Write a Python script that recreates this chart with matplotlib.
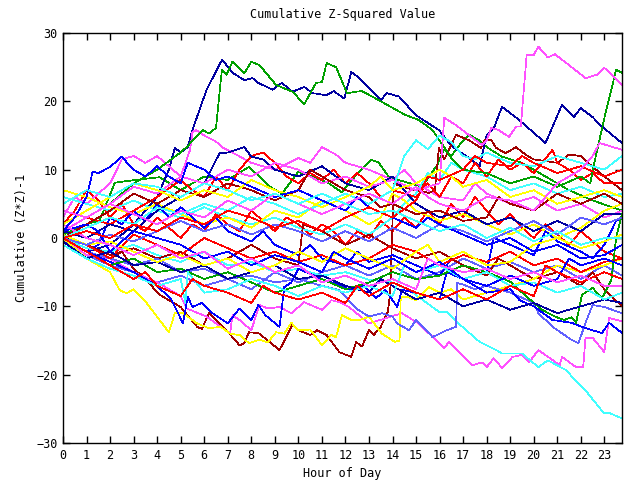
import numpy as np
import matplotlib
matplotlib.use("Agg")
import matplotlib.pyplot as plt

# gnuplot-ish palette
RED = "#ff0000"
GREEN = "#00a000"
NAVY = "#0000a0"
MAGENTA = "#ff50ff"
CYAN = "#40ffff"
DRED = "#a00000"
YELLOW = "#ffff00"
SLATE = "#6060ff"
BLUE = "#0000ff"

# --- data: (hour, cumulative value) ---
navy_high = [(0, 0), (1, -2), (2, -1), (3, 2), (4, 6), (4.5, 10), (4.75, 13.2), (5.0, 12.5), (5.3, 13.3),
             (5.5, 15.8), (6.1, 21.7), (6.76, 26.1), (7.2, 24.2), (7.7, 23.1), (8.05, 23.4), (8.3, 22.7),
             (8.9, 21.7), (9.3, 22.7), (9.75, 21.4), (10.25, 22.1), (10.6, 21.2), (11.2, 20.9), (11.5, 21.5),
             (11.95, 20.4), (12.25, 24.3), (12.6, 23.4), (13.5, 20.2), (13.77, 21.2), (14.28, 20.7),
             (14.98, 18.0), (15.97, 15.8), (16.5, 13.5), (17.37, 11.4), (17.7, 10.5), (18.0, 15.1),
             (18.3, 16.0), (18.65, 19.2), (19.37, 17.3), (20.5, 13.9), (21.2, 19.5), (21.7, 17.7),
             (22.0, 19.0), (22.5, 17.7), (22.9, 16.3), (23.75, 13.9)]
green_high = [(0, 1), (1, 3), (2, 5), (3, 8), (4, 10), (4.95, 12.4), (5.25, 13.3), (5.93, 15.8), (6.2, 15.3),
              (6.5, 16.1), (6.75, 24.6), (6.95, 23.9), (7.2, 25.8), (7.7, 24.1), (8.0, 25.8), (8.35, 25.3),
              (9.05, 22.4), (9.75, 21.4), (10.25, 19.6), (10.75, 22.7), (11.0, 22.8), (11.2, 25.6),
              (11.6, 25.0), (12.07, 21.2), (12.45, 21.4), (12.7, 21.5), (13.4, 20.2), (14.55, 18.0),
              (15.1, 17.3), (15.7, 15.8), (16.5, 11.7), (17, 10), (18, 9.5), (19, 8), (20, 9), (21, 7.5),
              (22, 9), (22.4, 8), (22.6, 11.4), (23.05, 18.3), (23.5, 24.6), (23.75, 24.2)]
magenta_late = [(0, 1), (1, 3), (2, 5), (3, 7.5), (4, 6.5), (5, 9), (6, 8), (7, 10), (8, 9), (9, 11), (10, 10),
                (11, 8), (12, 9), (13, 7.5), (14, 8.5), (15, 7), (16, 8), (16.2, 17.6), (16.7, 16.5),
                (17.8, 13.6), (18.0, 14.3), (18.2, 16.1), (18.5, 15.8), (18.95, 14.8), (19.25, 16.3),
                (19.45, 16.3), (19.7, 26.8), (20, 26.8), (20.2, 28), (20.6, 26.4), (20.9, 26.9), (21.5, 25.3),
                (22.2, 23.4), (22.7, 23.9), (23, 24.9), (23.75, 22.4)]
cyan_low = [(0, 0), (1, -1.5), (2, -2), (3, -1), (4, -2.5), (5, -3.5), (6, -2), (7, -4), (8, -3.5), (9, -5),
            (10, -4.5), (11, -5.5), (12, -5), (13, -6.1), (14, -6.5), (14.7, -7.6), (15.3, -9.1),
            (15.97, -10.8), (16.3, -10.8), (16.8, -12.5), (17.7, -15.2), (18.4, -16.4), (18.65, -16.9),
            (19.5, -16.9), (20.2, -18.9), (20.6, -17.9), (21.35, -19.3), (22.2, -22.3), (22.97, -25.6),
            (23.2, -25.6), (23.75, -26.4)]
magenta_low = [(0, 0), (1, -2.5), (2, -3), (3, -5), (4, -6.5), (5, -8.5), (5.25, -10.3), (6.1, -11.5),
               (7.1, -14), (7.2, -11.3), (7.5, -12), (8, -13.5), (8.35, -9.8), (8.7, -10.3), (9.2, -10.1),
               (9.7, -11), (10.25, -9.4), (11, -10.5), (11.4, -9.1), (11.74, -9.4), (12.15, -10.1),
               (13, -12.5), (14.4, -11), (15.1, -12.5), (16.2, -16.1), (16.4, -15.2), (17.4, -18.6),
               (17.8, -18.2), (18.0, -18.9), (18.3, -17.6), (18.65, -19), (19.1, -17.4), (19.5, -17.1),
               (19.8, -18.2), (20.2, -16.4), (21.1, -18.6), (21.2, -17.4), (21.8, -18.9), (22.1, -18.9),
               (22.2, -14.6), (22.5, -14.6), (23, -16.7), (23.2, -11.7), (23.75, -12.2)]
darkred_low = [(0, 0), (1, -2), (2, -3), (2.5, -2), (3, -4.5), (3.5, -6), (4.1, -8.3), (5, -10.1),
               (5.7, -13), (5.9, -13.3), (6.2, -11), (6.95, -13.5), (7.5, -15.7), (7.7, -15.4), (7.9, -13.8),
               (8.3, -13.9), (9.2, -16.4), (9.75, -12.7), (10, -13.5), (10.5, -14.2), (10.8, -13.5),
               (11.2, -14.2), (11.74, -16.7), (12.25, -17.4), (12.45, -15.2), (12.7, -15.9), (13, -13.5),
               (13.2, -14.2), (13.5, -13), (13.8, -10.8), (13.9, -8.1), (14.05, 8), (14.4, 7.5), (15, 7),
               (15.55, 6.6), (15.8, 7), (15.97, 13.2), (16.2, 11.5), (16.7, 15.1), (17.25, 14.3),
               (17.75, 13.2), (17.9, 14.3), (18.2, 14.3), (18.4, 13.2), (18.8, 12.4), (19.25, 13.3),
               (19.65, 12.2), (20, 11.5), (21, 11), (21.5, 12.2), (22, 12), (22.3, 11), (23, 9), (23.75, 7)]
yellow_low = [(0, 0), (1, -3), (2, -5), (2.4, -7.6), (2.7, -8.1), (3, -7.5), (3.55, -9.5), (4.5, -13.8),
              (4.75, -11), (5.1, -11), (5.7, -12.5), (6.2, -13.2), (6.7, -13), (7.1, -14), (7.5, -14.2),
              (7.9, -15.4), (8.35, -14.9), (8.7, -15.3), (9.05, -13.8), (9.4, -14), (9.7, -12.4),
              (10, -13.5), (10.5, -13.4), (11, -15.7), (11.4, -14.2), (11.6, -14.5), (11.85, -11.3),
              (12.25, -12), (12.6, -12), (13, -11.5), (13.55, -14), (14.1, -15.2), (14.3, -15),
              (14.35, -8.6), (14.6, -8.6), (15, -9.1), (15.55, -7.2), (16, -8), (16.5, -7.5), (17, -9),
              (18, -8), (19, -7), (20, -6), (21, -4), (22, -5), (23, -4), (23.75, -3)]
slate_low = [(0, 0), (1, -2), (2, -3), (3, -4), (4, -3), (5, -5), (6, -4.5), (7, -6), (8, -5.5), (9, -6.5),
             (10, -6), (11, -7), (11.74, -7.6), (12.45, -10.3), (13, -11.5), (13.55, -11), (14, -11.5),
             (14.2, -12.5), (14.7, -13.5), (15, -12), (15.7, -14.5), (16.3, -13.5), (16.7, -13),
             (16.75, -6.6), (17, -6.8), (17.5, -7.5), (18, -7), (19, -8), (20, -9.5), (20.2, -11),
             (20.8, -13), (21.6, -14.9), (21.9, -15.4), (22.2, -12.4), (22.5, -9.8), (23, -10.1),
             (23.75, -11)]
blue_dip = [(0, 0), (1, -2), (2, -3.5), (3, -5), (4, -7), (4.6, -9), (5.1, -12.5), (5.3, -8.6), (5.5, -10.1),
            (5.9, -9.5), (6.35, -11), (7, -12.5), (7.5, -10.3), (8, -12), (8.3, -9.8), (8.6, -11.3),
            (9.2, -13), (9.4, -7.2), (9.7, -6.5), (10, -4.5), (11, -6), (11.74, -6.9), (12.2, -7.6),
            (12.8, -7), (13.3, -8.8), (13.7, -7.6), (14.2, -10.1), (14.4, -7.6), (15, -8), (16, -9),
            (16.3, -5), (17, -6), (18, -8), (19, -7.5), (19.4, -9.1), (20, -10), (20.8, -12), (21.6, -12.4),
            (22.2, -13.2), (22.9, -13.9), (23.2, -12.4), (23.75, -13.9)]
green_mid = [(0, 0.5), (1, 2), (1.56, 2.6), (2.2, 8.1), (3.1, 8.5), (4.1, 8.9), (5, 7), (6, 9), (7, 8.5),
             (7.9, 10.4), (8.8, 7.5), (9.3, 6.5), (10, 9.7), (11.2, 8.2), (11.85, 6.7), (12.45, 9.2),
             (13.1, 11.4), (13.4, 11.1), (13.85, 8.9), (14.55, 8.2), (15.25, 7.5), (15.9, 10.7), (16.2, 13),
             (16.5, 12), (16.95, 14.1), (17.25, 15.1), (17.7, 14.3), (18.0, 13.3), (18.65, 11.9),
             (19.5, 11.0), (20.5, 9), (21.5, 7), (22.5, 5.5), (23.75, 4)]
red_a = [(0, 2), (0.5, 4), (1, 7), (1.5, 5.5), (2, 3), (2.5, 5), (3, 2), (3.5, 1), (4, 3), (4.5, 1.5), (5, 0),
         (5.5, 2), (6, 1), (6.5, 3.5), (7, 2), (7.5, 1), (8, 4), (8.5, 2.5), (9, 1), (9.5, 3), (10, 2),
         (10.5, 0.5), (11, 2), (11.5, 1), (12, -1), (12.5, 1), (13, 0), (13.5, 2.5), (14, 1), (14.5, 3),
         (15, 1.5), (15.5, 4), (16, 2), (16.5, 5), (17, 3), (17.5, 6), (18, 4), (18.5, 2), (19, 3.5),
         (19.5, 1.5), (20, 0), (20.5, 2), (21, 0.5), (21.5, -1), (22, 1), (22.5, -0.5), (23, -2), (23.75, -3)]
blue_a = [(0, -0.5), (1, -2), (1.5, -1), (2, 3), (2.5, 2), (3, 4), (3.5, 2.5), (4, 5), (4.5, 3), (5, 4.5),
          (5.5, 3), (6, 1.5), (6.5, 3), (7, 1), (8, -0.5), (8.5, 1), (9, -1), (10, -2.5), (10.5, -1), (11, -3),
          (12, -4), (12.5, -2), (13, -3.5), (14, -2.5), (15, -4), (16, -5.5), (16.5, -3), (17, -4), (18, -5),
          (18.3, 0), (19, -1), (20, -2.5), (20.5, 1), (21, -0.5), (22, -2), (22.5, -3), (23, -1), (23.5, 2.5),
          (23.75, 3)]
cyan_a = [(0, 6), (1, 5), (2, 4), (3, 5.5), (4, 4), (5, 3), (6, 4.5), (7, 3), (8, 2), (9, 3), (10, 1.5),
          (11, 0.5), (12, 2), (13, 0.5), (14, 3), (14.5, 5), (15, 6.5), (15.5, 9.5), (16, 8.5), (16.5, 11),
          (17, 10), (18, 9), (19, 7), (20, 8), (21, 6.5), (22, 7.5), (23, 6), (23.75, 6.5)]
magenta_a = [(0, 3), (0.5, 6), (1, 5), (2, 8), (2.5, 11.5), (3, 12), (3.5, 11), (4, 12), (4.5, 10.5), (5, 9),
             (5.4, 12.9), (5.5, 15.5), (5.65, 15.8), (6, 15), (6.5, 14.1), (6.8, 13.2), (7.2, 12.5), (8, 11),
             (9, 10), (10, 11.7), (10.5, 11), (11, 13.3), (11.6, 12.2), (12, 11), (13, 10), (14, 8.5),
             (14.5, 10), (15, 8), (16, 6), (17, 5.5), (17.5, 8), (18, 6.5), (19, 5), (20, 6), (21, 4), (22, 5),
             (23, 3), (23.75, 4)]
navy_a = [(0, 1), (1, 0), (2, 2), (3, 1), (4, 4), (5, 6), (6, 8), (6.65, 12.4), (7, 12.5), (7.7, 13.3),
          (8, 11.9), (8.5, 11.5), (9, 10), (10, 9), (11, 10.5), (12, 8), (13, 7), (14, 9), (14.5, 7), (15, 5),
          (16, 3), (17, 4), (18, 2), (19, 3), (20, 1), (21, 2.5), (22, 1), (23, 3.5), (23.75, 3.5)]
red_b = [(0, 1), (1, 3), (2, 2), (3, 4), (4, 6), (5, 8.5), (5.5, 7), (6, 6), (6.5, 9), (7, 7), (7.5, 10),
         (8, 12), (8.5, 12.5), (9, 11), (9.5, 9), (10, 8), (10.5, 9.5), (11, 8.5), (11.5, 10), (12, 8),
         (12.5, 9.5), (13, 8), (13.5, 6), (14, 7), (15, 6), (15.5, 8), (16, 6), (16.5, 9), (17, 8), (17.5, 11),
         (18, 9), (18.5, 11.5), (19, 10), (19.5, 11), (20, 9.5), (20.8, 12.9), (21, 11), (21.5, 10),
         (22, 8.5), (22.5, 9.5), (23, 8), (23.75, 8)]
yellow_a = [(0, 7), (1, 6), (2, 4.5), (3, 3.5), (4, 5), (5, 3.5), (6, 2), (7, 3), (8, 1.5), (9, 4), (10, 3),
            (11, 5.5), (12, 4), (13, 2), (13.5, 3), (14, 6.5), (14.5, 5.5), (15, 4), (16, 2.5), (17, 3.5),
            (18, 2), (19, 0.5), (20, 2), (21, 0), (22, 1.5), (23, 4), (23.75, 5)]
darkred_a = [(0, 0), (1, -1), (2, -2.5), (3, -1.5), (4, -3), (5, -2), (6, -4), (7, -3), (8, -1), (9, -3),
             (10, -4), (10.2, 2), (11, 1), (12, -1), (13, 0.5), (14, -1.5), (15, -3), (16, -2), (17, -4),
             (18, -5.5), (18.5, -3), (19, -4), (20, -6), (21, -5), (22, -7), (22.5, -5), (23, -7.5),
             (23.75, -10)]
cyan_b = [(0, -1), (1, -3), (2, -4.5), (3, -5.5), (4, -7), (5, -6), (5.2, -9.5), (5.3, -5), (6, -8),
          (7, -7.5), (8, -6), (9, -7), (10, -8.5), (11, -7), (12, -8), (13, -7), (14, -8.5), (14.5, -4),
          (15, -5), (16, -4), (17, -6), (18, -5), (19, -7), (20, -6.5), (21, -8), (22, -7), (23, -9),
          (23.75, -8)]
slate_a = [(0, 0), (1, -2.5), (2, -4), (3, -5), (4, -6.5), (5, -5.5), (6, -7), (7, -6), (8, -7.5), (9, -5),
           (10, -6.5), (11, -5), (12, -4), (13, -5.5), (14, -4), (15, -6), (16, -5), (17, -3), (18, -4.5),
           (19, -3.5), (20, -5), (21, -4), (22, -6), (23, -4), (23.75, -5.5)]
blue_b = [(0, 1), (1, 2), (1.5, 1), (2, -2), (3, 1), (4, 0), (5, -1), (6, -3), (7, -2), (8, -4), (9, -2.5),
          (10, -3.5), (11, -5), (11.5, -2), (12, -3), (13, -4.5), (14, -3), (15, -5), (16, -3.5), (17, -6),
          (18, -7), (19, -5.5), (20, -7), (21, -6), (21.5, -3), (22, -4), (23, -3), (23.75, -4)]
magenta_b = [(0, 2), (1, 0), (2, -1), (3, -2.5), (4, -1), (5, -3), (6, -2), (7, -4.5), (8, -3), (9, -5),
             (10, -4), (11, -6.5), (12, -5.5), (13, -7), (14, -6), (15, -7.5), (15.5, -3), (16, -4), (17, -5),
             (18, -4.5), (19, -6), (20, -5), (21, -6.5), (22, -5.5), (23, -7), (23.75, -7)]
red_c = [(0, 0), (1, -1), (2, -3), (3, 0.5), (4, -1), (5, -2.5), (6, 0), (7, -1.5), (8, -3), (9, -2),
         (10, -3.5), (11, -2.5), (12, -4), (13, -3), (14, -1), (15, -2), (16, -4), (17, -2.5), (18, -3.5),
         (19, -2), (20, -4), (21, -3), (22, -5), (23, -3.5), (23.75, -3)]
yellow_b = [(0, 0.5), (1, -1), (2, -0.5), (3, -2), (4, -3.5), (5, -2.5), (6, -4), (7, -3), (8, -5), (9, -4),
            (10, -2), (11, -3.5), (12, -1.5), (13, -3), (14, -4.5), (15, -2), (15.5, -1), (16, -3.5),
            (17, -2), (18, -4), (19, -3.5), (20, -1), (21, 0), (22, -1.5), (23, -0.5), (23.75, 0.5)]
green_low = [(0, 0), (1, -2), (2, -4), (3, -3), (4, -5), (5, -4.5), (6, -6), (7, -5), (8, -6.5), (9, -8),
             (10, -7), (11, -6), (12, -7.5), (13, -6.5), (14, -5), (15, -6), (16, -5.5), (17, -4), (18, -5),
             (19, -6.4), (19.7, -8.6), (20.35, -10.5), (20.9, -11.5), (21.3, -12), (21.6, -11.6),
             (21.8, -12.4), (22.05, -8.3), (22.5, -7.3), (22.9, -8.8), (23.1, -7.5), (23.3, -6.1),
             (23.5, 0), (23.75, 3.5)]
cyan_c = [(0, 0), (1, 1.5), (2, 3), (3, 2), (4, 4.5), (5, 3.5), (6, 5), (7, 4), (8, 6), (9, 5), (10, 3.5),
          (11, 5), (12, 6.5), (13, 5), (14, 7), (14.5, 12), (15, 14.3), (15.5, 13), (16, 15), (16.5, 14),
          (17, 12), (17.5, 11.5), (18, 12.5), (19, 11), (20, 10.5), (21, 12), (22, 11), (23, 10),
          (23.75, 12)]
darkred_b = [(0, 0), (1, 2), (2, 4), (3, 6.5), (4, 5), (5, 7), (6, 6), (7, 8), (8, 7), (9, 5.5), (10, 7),
             (10.5, 10), (11, 9), (12, 7), (13, 6), (13.5, 4.5), (14, 5), (15, 3.5), (16, 4), (17, 2.5),
             (18, 3), (18.5, 6), (19, 5), (20, 4), (21, 6.5), (22, 5), (23, 6.5), (23.75, 5)]
blue_c = [(0, 1), (0.5, 3), (1, 6), (1.26, 9.7), (1.5, 9.5), (2, 10.4), (2.5, 11.9), (2.7, 11.1), (3, 10),
          (3.5, 9), (4, 10.5), (4.5, 9), (5, 8), (5.3, 11), (6, 10), (6.5, 8.5), (7, 9), (8, 7.5), (9, 6),
          (10, 7), (11, 5.5), (12, 4), (12.5, 6), (13, 4.5), (14, 3), (15, 1.5), (15.5, 3), (16, 2),
          (17, 0.5), (18, -1), (19, 0), (20, -2), (21, -1), (22, -3), (23, -2.5), (23.75, -1)]
red_d = [(0, 0), (1, -2), (2, -4), (3, -6), (3.5, -5), (4, -7), (5, -8.5), (5.5, -6), (6, -7), (7, -8),
         (8, -9.5), (8.5, -7), (9, -8), (10, -9), (11, -8), (12, -9.5), (12.5, -7), (13, -8.5), (14, -6.5),
         (15, -8), (16, -9), (17, -7.5), (18, -9), (19, -7), (20, -8.5), (20.5, -4), (21, -5), (22, -6.5),
         (23, -5), (23.75, -6)]
magenta_c = [(0, 4), (1, 3), (2, 5), (3, 3.5), (4, 2), (5, 4), (6, 3), (7, 5.5), (8, 4), (9, 6.5), (10, 5),
             (11, 3.5), (12, 5), (13, 6.5), (14, 5), (15, 7.5), (15.5, 6), (16, 5), (17, 4), (18, 6),
             (19, 5.5), (20, 4), (21, 8), (22, 10), (22.5, 12), (22.8, 13.9), (23.75, 12.9)]
yellow_c = [(0, 2), (1, 4), (2, 6), (3, 8), (4, 7), (5, 5.5), (6, 7), (7, 6), (8, 8.5), (9, 7), (10, 6),
            (11, 4.5), (12, 6), (13, 7.5), (13.5, 9), (14, 7), (15, 8), (16, 10), (16.5, 9), (17, 7.5),
            (18, 8.5), (19, 6), (20, 7), (21, 5), (22, 6), (23, 7), (23.75, 6)]
slate_b = [(0, 0), (1, -1), (2, 0.5), (3, -0.5), (4, 1), (5, 2.5), (6, 1), (7, 2), (8, 0.5), (9, 2), (10, 1),
           (11, -0.5), (12, 1), (13, -0.5), (14, 1.5), (15, 0), (16, 2), (17, 1), (18, -0.5), (19, 1),
           (20, 2.5), (21, 0.5), (22, 3), (23, 2), (23.75, 3)]
navy_b = [(0, -0.5), (1, -3), (2, -2), (3, -4), (4, -3.5), (5, -5), (6, -4), (7, -6), (8, -5), (9, -4),
          (10, -6), (11, -5.5), (12, -7), (13, -8), (13.5, -6), (14, -7), (15, -9), (16, -8), (17, -10),
          (18, -9), (19, -10.5), (20, -9.5), (21, -11), (22, -10), (23, -9), (23.75, -9.5)]
cyan_d = [(0, 5), (1, 7), (2, 6), (3, 8), (4, 7.5), (5, 6), (6, 8), (7, 7), (8, 5.5), (9, 6.5), (10, 5),
          (11, 6.5), (12, 5), (13, 3.5), (14, 4), (15, 2.5), (16, 1), (17, 2), (18, 0), (19, 1.5), (20, -0.5),
          (21, 1), (22, -1), (23, 0), (23.75, 0)]
red_e = [(0, 0), (1, 1), (2, 0), (3, 2), (4, 1), (5, 3), (6, 2), (7, 4), (8, 3), (9, 1.5), (10, 2.5), (11, 1),
         (12, 3), (13, 4.5), (14, 3), (15, 5.5), (15.5, 9), (16, 8.5), (17, 10), (17.5, 12), (18, 11),
         (19, 10.5), (19.5, 12), (20, 11), (21, 9.5), (22, 10.5), (23, 9), (23.75, 10)]

series = [
    (red_a, RED), (green_mid, GREEN), (navy_high, NAVY), (magenta_a, MAGENTA), (cyan_a, CYAN),
    (darkred_low, DRED), (yellow_a, YELLOW), (slate_a, SLATE), (blue_a, BLUE),
    (red_b, RED), (green_high, GREEN), (navy_a, NAVY), (magenta_low, MAGENTA), (cyan_low, CYAN),
    (darkred_a, DRED), (yellow_low, YELLOW), (slate_low, SLATE), (blue_dip, BLUE),
    (red_c, RED), (green_low, GREEN), (navy_b, NAVY), (magenta_late, MAGENTA), (cyan_b, CYAN),
    (darkred_b, DRED), (yellow_b, YELLOW), (slate_b, SLATE), (blue_b, BLUE),
    (red_d, RED), (magenta_b, MAGENTA), (cyan_c, CYAN), (yellow_c, YELLOW), (blue_c, BLUE),
    (red_e, RED), (magenta_c, MAGENTA), (cyan_d, CYAN),
]

hour_ticks = list(range(24))
value_ticks = [-30, -20, -10, 0, 10, 20, 30]

plt.rcParams['font.family'] = ['DejaVu Sans Mono']

fig = plt.figure(figsize=(6.4, 4.8), dpi=100)
ax = fig.add_axes([63 / 640, 37 / 480, 559 / 640, 410 / 480])

for pts, color in series:
    h, v = zip(*pts)
    ax.plot(h, v, color=color, lw=0.5, antialiased=False)

ax.set_xlim(0, 23.75)
ax.set_ylim(-30, 30)
ax.set_xticks(hour_ticks)
ax.set_yticks(value_ticks)
ax.tick_params(direction='in', length=5, width=1, top=True, right=True, labelsize=8.5, pad=4)
for sp in ax.spines.values():
    sp.set_linewidth(1)

ax.set_title("Cumulative Z-Squared Value", fontsize=8.5, pad=11)
ax.set_xlabel("Hour of Day", fontsize=8.5, labelpad=4)
ax.set_ylabel("Cumulative (Z*Z)-1", fontsize=8.5, labelpad=6)

fig.savefig("out.png", dpi=100)
